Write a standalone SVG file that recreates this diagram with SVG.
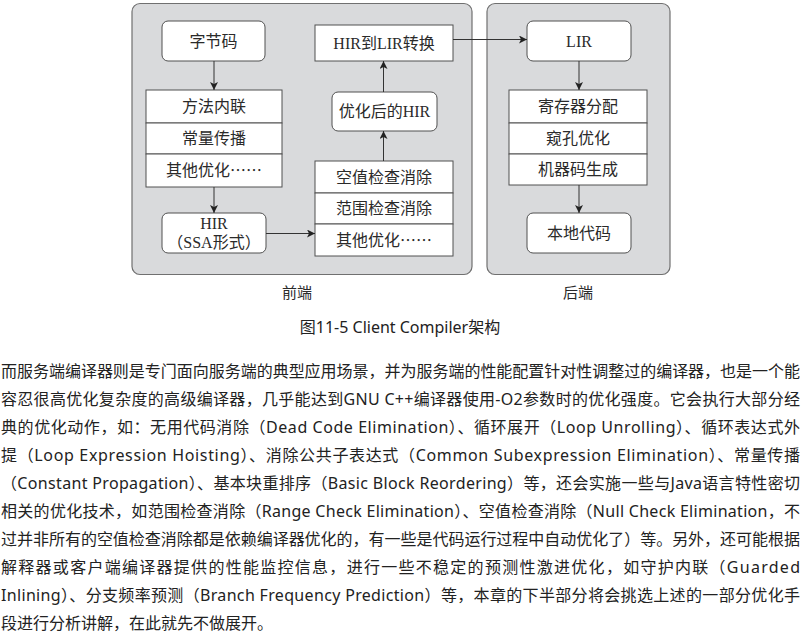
<svg xmlns="http://www.w3.org/2000/svg" width="804" height="637" viewBox="0 0 804 637">
<style>
.panel{fill:#d9dadc;stroke:#707070;stroke-width:1.2}
.box{fill:#fff;stroke:#505050;stroke-width:1}
.t{font-family:"Liberation Serif","Noto Sans CJK SC",serif;font-size:16px;fill:#2a2a2a;text-anchor:middle}
.ell{font-family:"Noto Sans CJK SC",sans-serif}
.lab{font-family:"Liberation Serif","Noto Sans CJK SC",serif;font-size:15px;fill:#2a2a2a;text-anchor:middle}
.cap{font-family:"Noto Sans","Noto Sans CJK SC",sans-serif;font-size:16px;fill:#222;text-anchor:middle}
.body{font-family:"Noto Sans","Noto Sans CJK SC",sans-serif;font-size:16px;fill:#222}
.conn{stroke:#333;stroke-width:1;fill:none;marker-end:url(#ah)}
</style>
<defs>
<marker id="ah" viewBox="0 0 10 10" refX="10" refY="5" markerWidth="10" markerHeight="8" markerUnits="userSpaceOnUse" orient="auto">
<path d="M0,0 L10,5 L0,10 L2.5,5 z" fill="#222"/>
</marker>
</defs>
<g id="frontend-panel"><rect class="panel" x="132" y="3.5" width="340" height="271" rx="8"/></g>
<g id="backend-panel"><rect class="panel" x="487" y="3.5" width="183" height="271" rx="8"/></g>

<g id="bytecode"><rect class="box" x="162" y="21" width="103" height="40" rx="6"/><text class="t" x="213.5" y="47">字节码</text></g>
<g id="inline"><rect class="box" x="146" y="90" width="136" height="33"/><text class="t" x="214" y="112">方法内联</text></g>
<g id="constprop"><rect class="box" x="146" y="123" width="136" height="31"/><text class="t" x="214" y="144">常量传播</text></g>
<g id="otheropt1"><rect class="box" x="146" y="154" width="136" height="33"/><text class="t" x="214" y="176">其他优化<tspan class="ell">……</tspan></text></g>
<g id="hir"><rect class="box" x="162" y="213" width="104" height="40" rx="6"/><text class="t" x="214" y="229">HIR</text><text class="t" x="214" y="248">（SSA形式）</text></g>
<g id="nullcheck"><rect class="box" x="315" y="161" width="138" height="32"/><text class="t" x="384" y="183">空值检查消除</text></g>
<g id="rangecheck"><rect class="box" x="315" y="193" width="138" height="31"/><text class="t" x="384" y="214">范围检查消除</text></g>
<g id="otheropt2"><rect class="box" x="315" y="224" width="138" height="32"/><text class="t" x="384" y="246">其他优化<tspan class="ell">……</tspan></text></g>
<g id="opthir"><rect class="box" x="332" y="92" width="105" height="39" rx="6"/><text class="t" x="384.5" y="117">优化后的HIR</text></g>
<g id="hir2lir"><rect class="box" x="315" y="25" width="138" height="36"/><text class="t" x="384" y="48.5">HIR到LIR转换</text></g>

<g id="lir"><rect class="box" x="527" y="21" width="104" height="40" rx="6"/><text class="t" x="579" y="47">LIR</text></g>
<g id="regalloc"><rect class="box" x="509" y="90" width="138" height="33"/><text class="t" x="578" y="112">寄存器分配</text></g>
<g id="peephole"><rect class="box" x="509" y="123" width="138" height="31"/><text class="t" x="578" y="144">窥孔优化</text></g>
<g id="codegen"><rect class="box" x="509" y="154" width="138" height="31"/><text class="t" x="578" y="175">机器码生成</text></g>
<g id="native"><rect class="box" x="527" y="213" width="104" height="40" rx="6"/><text class="t" x="579" y="239">本地代码</text></g>

<g id="connectors">
<line class="conn" x1="214" y1="61" x2="214" y2="90"/>
<line class="conn" x1="214" y1="187" x2="214" y2="213"/>
<line class="conn" x1="266" y1="233.5" x2="315" y2="233.5"/>
<line class="conn" x1="383.5" y1="161" x2="383.5" y2="131"/>
<line class="conn" x1="383.5" y1="92" x2="383.5" y2="61"/>
<line class="conn" x1="453" y1="39.5" x2="527" y2="39.5"/>
<line class="conn" x1="579" y1="61" x2="579" y2="90"/>
<line class="conn" x1="579" y1="185" x2="579" y2="213"/>
</g>

<text class="lab" x="297" y="298">前端</text>
<text class="lab" x="578" y="298">后端</text>
<text class="cap" x="400" y="333">图11-5 Client Compiler架构</text>

<g id="paragraph">
<text class="body" x="1" y="377" textLength="799" lengthAdjust="spacing">而服务端编译器则是专门面向服务端的典型应用场景，并为服务端的性能配置针对性调整过的编译器，也是一个能</text>
<text class="body" x="1" y="405" textLength="799" lengthAdjust="spacing">容忍很高优化复杂度的高级编译器，几乎能达到GNU C++编译器使用-O2参数时的优化强度。它会执行大部分经</text>
<text class="body" x="1" y="433" textLength="799" lengthAdjust="spacing">典的优化动作，如：无用代码消除（Dead Code Elimination）、循环展开（Loop Unrolling）、循环表达式外</text>
<text class="body" x="1" y="461" textLength="799" lengthAdjust="spacing">提（Loop Expression Hoisting）、消除公共子表达式（Common Subexpression Elimination）、常量传播</text>
<text class="body" x="1" y="489" textLength="799" lengthAdjust="spacing">（Constant Propagation）、基本块重排序（Basic Block Reordering）等，还会实施一些与Java语言特性密切</text>
<text class="body" x="1" y="517" textLength="799" lengthAdjust="spacing">相关的优化技术，如范围检查消除（Range Check Elimination）、空值检查消除（Null Check Elimination，不</text>
<text class="body" x="1" y="545" textLength="799" lengthAdjust="spacing">过并非所有的空值检查消除都是依赖编译器优化的，有一些是代码运行过程中自动优化了）等。另外，还可能根据</text>
<text class="body" x="1" y="573" textLength="799" lengthAdjust="spacing">解释器或客户端编译器提供的性能监控信息，进行一些不稳定的预测性激进优化，如守护内联（Guarded</text>
<text class="body" x="1" y="601" textLength="799" lengthAdjust="spacing">Inlining）、分支频率预测（Branch Frequency Prediction）等，本章的下半部分将会挑选上述的一部分优化手</text>
<text class="body" x="1" y="629">段进行分析讲解，在此就先不做展开。</text>
</g>
</svg>
